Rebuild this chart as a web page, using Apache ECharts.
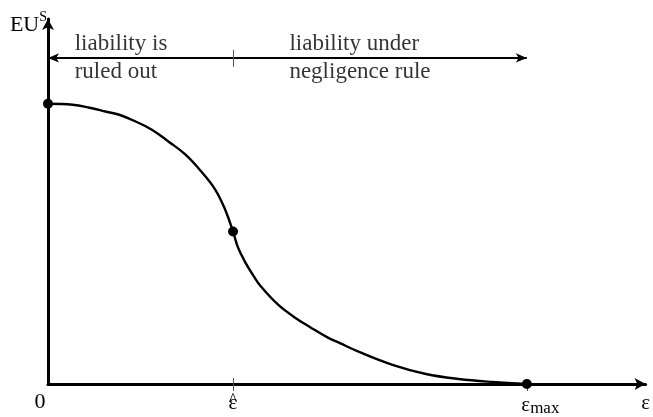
<!DOCTYPE html>
<html>
<head>
<meta charset="utf-8">
<script src="https://cdn.jsdelivr.net/npm/echarts@6/dist/echarts.min.js"></script>
<style>html,body{margin:0;padding:0;background:#fff}#c{width:653px;height:417px}</style>
</head>
<body>
<div id="c"></div>
<script>
// Curve EU^S(ε)
const curveX = [0, 25, 42, 59, 72, 89, 105, 122, 139, 155, 169, 179, 187, 192, 200, 208, 215, 232, 249, 265, 282, 295, 315, 349, 382, 415, 449, 484];
const curveY = [281, 280, 277, 273, 270, 263, 255, 243, 230, 213, 195, 175, 153, 137, 121, 108, 98, 80, 67, 57, 47, 41, 32, 19, 10, 5, 2, 0];
// Marked points: start, ε̂, ε_max
const dotX = [0, 187, 484];
const dotY = [281, 153, 0];
// Axis ticks / labels
const tickValues = [0, 187, 484, 604];
const tickLabels = ['0', 'ε', 'max', 'ε'];
const hatValue = [187];
const hatLabel = '^';
// Range arrow
const rangeArrowY = 327;
const rangeStart = 0, rangeSplit = 187, rangeEnd = 484;
const regionTexts = ['liability is\nruled out', 'liability under\nnegligence rule'];
const regionTextX = [27, 244];

const serif = '"Liberation Serif", "Times New Roman", serif';
const chart = echarts.init(document.getElementById('c'), null, {renderer: 'canvas'});

chart.setOption({
  backgroundColor: '#fff',
  animation: false,
  grid: {left: 48, right: 1, top: 19, bottom: 32, containLabel: false},
  xAxis: [{
    type: 'value', min: 0, max: 604,
    splitLine: {show: false},
    axisLine: {show: true, onZero: true, lineStyle: {color: '#000', width: 3},
      symbol: ['none', 'arrow'], symbolSize: [9, 11], symbolOffset: [0, 0]},
    axisTick: {show: true, customValues: [187, 484], length: 7, lineStyle: {color: '#555', width: 1}},
    axisLabel: {
      show: true, customValues: tickValues, margin: 6, color: '#000',
      fontFamily: serif, fontSize: 21,
      formatter: function (v) {
        const i = tickValues.indexOf(v);
        const t = tickLabels[i];
        if (t === '0') return '{z|0}';
        if (t === 'max') return '{p|}{e|ε}{m|max}';
        return '{e|' + t + '}';
      },
      rich: {
        z: {fontFamily: serif, fontSize: 22, color: '#000', padding: [1, 16, 0, 0]},
        e: {fontFamily: serif, fontSize: 21, color: '#000', padding: [3, 0, 0, 0]},
        p: {width: 27},
        m: {fontFamily: serif, fontSize: 17, color: '#000', verticalAlign: 'bottom', padding: [10, 0, 0, 0]}
      }
    }
  }, {
    type: 'value', min: 0, max: 604, position: 'bottom',
    splitLine: {show: false},
    axisLine: {show: false},
    axisTick: {show: false},
    axisLabel: {
      show: true, customValues: hatValue, margin: 8, color: '#000',
      fontFamily: serif, fontSize: 18,
      formatter: function () { return hatLabel; }
    }
  }],
  yAxis: {
    type: 'value', min: 0, max: 366,
    splitLine: {show: false},
    axisTick: {show: false},
    axisLabel: {show: false},
    axisLine: {show: true, lineStyle: {color: '#000', width: 3},
      symbol: ['none', 'arrow'], symbolSize: [9, 11]},
    name: 'EU{s|S}',
    nameLocation: 'end',
    nameGap: -6,
    nameTextStyle: {
      fontFamily: serif, fontSize: 22, color: '#000', align: 'right', verticalAlign: 'middle',
      padding: [0, 1, 0, 0],
      rich: {s: {fontFamily: serif, fontSize: 14, color: '#000', verticalAlign: 'top', padding: [0, 0, 16, 0]}}
    }
  },
  series: [
    {
      type: 'line',
      data: curveX.map((x, i) => [x, curveY[i]]),
      smooth: 0.4,
      showSymbol: false,
      lineStyle: {color: '#000', width: 2.4},
      silent: true,
      z: 3,
      markLine: {
        silent: true,
        animation: false,
        label: {show: false},
        data: [
          [{coord: [rangeStart, rangeArrowY], symbol: 'arrow', symbolSize: [7, 11]},
           {coord: [rangeEnd, rangeArrowY], symbol: 'arrow', symbolSize: [7, 11]}],
          [{coord: [rangeSplit, rangeArrowY - 9], symbol: 'none', lineStyle: {width: 1, color: '#555', type: 'solid'}},
           {coord: [rangeSplit, rangeArrowY + 8], symbol: 'none'}],
          [{coord: [rangeSplit, 0], symbol: 'none', lineStyle: {width: 1, color: '#555', type: 'solid'}},
           {coord: [rangeSplit, 6], symbol: 'none'}]
        ],
        lineStyle: {color: '#000', width: 2, type: 'solid'}
      }
    },
    {
      type: 'scatter',
      data: dotX.map((x, i) => [x, dotY[i]]),
      symbol: 'circle',
      symbolSize: 10,
      itemStyle: {color: '#000', opacity: 1},
      z: 5,
      silent: true
    },
    {
      type: 'scatter',
      data: regionTextX.map((x, i) => ({value: [x, rangeArrowY], label: {formatter: regionTexts[i]}})),
      symbolSize: 0,
      silent: true,
      label: {
        show: true, position: 'right', distance: 0, align: 'left', verticalAlign: 'middle',
        fontFamily: serif, fontSize: 23, color: '#000', lineHeight: 28
      }
    }
  ]
});
</script>
</body>
</html>
